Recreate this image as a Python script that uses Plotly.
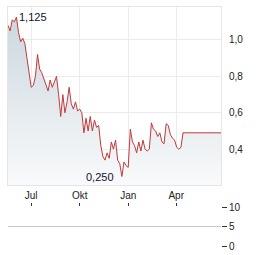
import pandas as pd
import plotly.graph_objects as go

# Price series, one value every 4 days from 2023-05-18
prices = [1.08, 1.05, 1.11, 1.10, 1.125, 1.04, 0.99, 1.01, 0.98, 0.90,
          0.80, 0.74, 0.75, 0.80, 0.92, 0.84, 0.82, 0.79, 0.76, 0.72,
          0.78, 0.74, 0.77, 0.80, 0.70, 0.58, 0.70, 0.60, 0.66, 0.74,
          0.65, 0.62, 0.66, 0.61, 0.62, 0.60, 0.49, 0.57, 0.50, 0.58,
          0.50, 0.56, 0.52, 0.53, 0.42, 0.36, 0.34, 0.38, 0.35, 0.44,
          0.40, 0.45, 0.34, 0.32, 0.25, 0.33, 0.31, 0.30, 0.51, 0.44,
          0.42, 0.38, 0.44, 0.39, 0.45, 0.40, 0.39, 0.40, 0.545, 0.51,
          0.50, 0.47, 0.49, 0.44, 0.43, 0.54, 0.53, 0.48, 0.46, 0.45,
          0.41, 0.40, 0.41, 0.49, 0.49, 0.49, 0.49, 0.49, 0.49, 0.49,
          0.49, 0.49, 0.49, 0.49, 0.49, 0.49, 0.49, 0.49, 0.49, 0.49,
          0.49, 0.49]
dates = pd.date_range("2023-05-18", periods=len(prices), freq="4D")

x_tick_vals = ["2023-07-01", "2023-10-01", "2024-01-01", "2024-04-01"]
x_tick_text = ["Jul", "Okt", "Jan", "Apr"]
y_tick_vals = [0.4, 0.6, 0.8, 1.0]
y_tick_text = ["0,4", "0,6", "0,8", "1,0"]
vol_tick_vals = [0, 5, 10]
vol_tick_text = ["0", "5", "10"]

hi_idx = prices.index(max(prices))
lo_idx = prices.index(min(prices))

FONT = "Liberation Sans, Arial, sans-serif"

fig = go.Figure()
fig.add_trace(go.Scatter(
    x=dates, y=prices, mode="lines",
    line=dict(color="#c03a3a", width=1),
    fill="tozeroy",
    fillgradient=dict(type="vertical", start=0.2, stop=1.13,
                      colorscale=[[0, "#f9fafb"], [1, "#cbd7df"]]),
    hoverinfo="skip", xaxis="x", yaxis="y"))

fig.add_annotation(x=dates[hi_idx], y=prices[hi_idx], text="1,125",
                   showarrow=False, xanchor="left", yanchor="middle", xshift=1,
                   font=dict(family=FONT, size=11, color="#111133"))
fig.add_annotation(x=dates[lo_idx], y=prices[lo_idx], text="0,250",
                   showarrow=False, xanchor="right", yanchor="middle", xshift=-6,
                   font=dict(family=FONT, size=11, color="#111133"))

xrange = ["2023-05-18", "2024-06-25"]
fig.update_layout(
    width=264, height=255,
    margin=dict(l=8, r=43, t=7, b=8, autoexpand=False),
    paper_bgcolor="white", plot_bgcolor="white",
    showlegend=False,
    separators=",.",
    font=dict(family=FONT, size=10, color="#222"),
    xaxis=dict(domain=[0, 1], range=xrange, anchor="y", automargin=False,
               tickvals=x_tick_vals, ticktext=x_tick_text,
               showgrid=True, gridcolor="#ebebeb", gridwidth=1,
               showline=True, linecolor="#e6e6e6", mirror=True,
               ticks="", ticklabelstandoff=1,
               tickfont=dict(size=10, color="#222")),
    yaxis=dict(domain=[0.258, 1], range=[0.203, 1.181], side="right",
               anchor="x", automargin=False,
               tickvals=y_tick_vals, ticktext=y_tick_text,
               showgrid=True, gridcolor="#ebebeb", gridwidth=1,
               showline=True, linecolor="#e6e6e6", mirror=True,
               zeroline=False, ticks="", ticklabelstandoff=5,
               tickfont=dict(size=10, color="#222")),
    xaxis2=dict(domain=[0, 1], range=xrange, anchor="y2", side="top",
                automargin=False,
                tickvals=x_tick_vals, ticks="outside", ticklen=3,
                tickcolor="#333", showticklabels=False, showgrid=False,
                showline=False, zeroline=False),
    yaxis2=dict(domain=[0, 0.1667], range=[-0.05, 10.05], side="right",
                anchor="x2", automargin=False,
                tickvals=vol_tick_vals, ticktext=vol_tick_text,
                showgrid=True, gridcolor="#c8c8c8", gridwidth=1,
                ticks="outside", ticklen=5, tickcolor="#333",
                showline=False, zeroline=False,
                tickfont=dict(size=10, color="#222")),
)
fig.add_trace(go.Scatter(x=[dates[0]], y=[None], xaxis="x2", yaxis="y2",
                         mode="lines", hoverinfo="skip"))

fig.write_html("out.html")
